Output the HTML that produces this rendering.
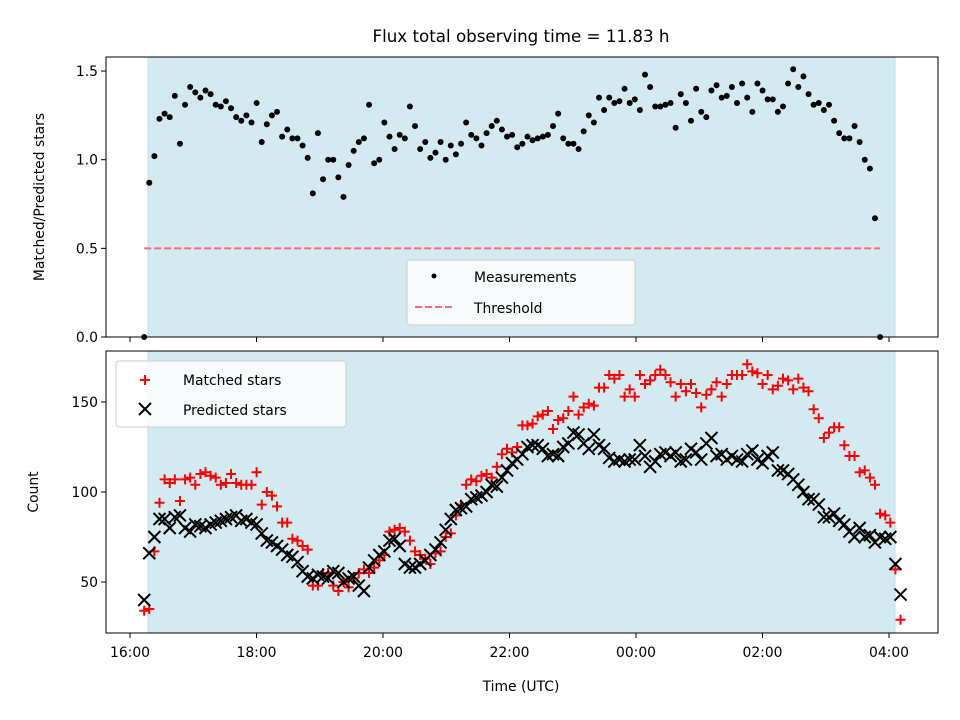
<!DOCTYPE html>
<html><head><meta charset="utf-8">
<style>
html,body{margin:0;padding:0;background:#fff;}
svg{display:block;font-family:"DejaVu Sans","Liberation Sans",sans-serif;}
</style></head>
<body>
<svg id="chart" width="960" height="720" viewBox="0 0 960 720" xmlns="http://www.w3.org/2000/svg">
<rect width="960" height="720" fill="#fff"/>
<text x="521" y="42" font-size="16.7" text-anchor="middle">Flux total observing time = 11.83 h</text>
<g id="topPanel"></g>
<g id="botPanel"></g>
<text x="521" y="691" font-size="13.9" text-anchor="middle">Time (UTC)</text>
<text transform="translate(44,197) rotate(-90)" font-size="13.9" text-anchor="middle">Matched/Predicted stars</text>
<text transform="translate(38,492) rotate(-90)" font-size="13.9" text-anchor="middle">Count</text>
</svg>
<script>
const startHour = 16.224;
const stepHour = 0.0808;
const shadeStart = 16.285;
const shadeEnd = 28.095;
const threshold = 0.5;
const ratioValues = [0,0.87,1.02,1.23,1.26,1.24,1.36,1.09,1.31,1.41,1.38,1.35,1.39,1.37,1.31,1.30,1.33,1.29,1.24,1.22,1.25,1.21,1.32,1.10,1.20,1.25,1.27,1.13,1.17,1.12,1.12,1.08,1.01,0.81,1.15,0.89,1.00,1.00,0.90,0.79,0.97,1.05,1.10,1.12,1.31,0.98,1.00,1.21,1.13,1.06,1.14,1.12,1.30,1.19,1.06,1.10,1.01,1.04,1.10,1.00,1.08,1.03,1.09,1.21,1.14,1.12,1.08,1.15,1.19,1.22,1.17,1.13,1.14,
1.07,1.09,1.13,1.11,1.12,1.13,1.14,1.19,1.26,1.12,1.09,1.09,1.06,1.16,1.25,1.21,1.35,1.28,1.35,1.32,1.33,1.40,1.32,1.34,1.28,1.48,1.41,1.30,1.30,1.31,1.32,1.18,1.37,1.32,1.22,1.40,1.27,1.24,1.39,1.42,1.35,1.36,1.41,1.32,1.43,1.35,1.27,1.43,1.39,1.34,1.34,1.27,1.30,1.43,1.51,1.41,1.47,1.37,1.31,1.32,1.28,1.31,1.22,1.15,1.12,1.12,1.19,1.10,1.00,0.95,0.67,0];
const matchedValues = [34,35,67,94,107,105,107,95,107,108,104,110,111,109,108,104,105,110,105,104,104,104,111,93,100,98,92,83,83,74,73,70,68,48,48,55,55,48,45,50,47,52,55,57,55,58,62,65,78,79,80,78,73,67,65,63,60,66,67,75,77,87,93,104,107,106,109,110,108,114,121,124,122,125,137,137,138,142,143,145,135,140,141,145,153,143,147,149,148,158,158,165,163,165,153,157,153,165,160,162,165,168,165,161,153,160,156,160,155,147,154,157,161,153,160,165,165,165,171,167,166,160,165,157,159,163,162,157,163,158,156,146,141,130,133,136,136,126,120,120,111,112,108,104,88,87,83,57,29];
const predictedValues = [40,66,75,85,85,80,86,87,80,78,82,81,80,82,83,84,85,86,87,84,85,83,82,77,73,72,70,68,65,64,61,56,53,52,54,53,52,56,55,50,52,53,48,45,58,62,65,67,73,74,70,60,58,58,60,62,65,68,72,79,85,90,91,92,96,97,98,100,104,103,108,112,116,118,121,125,126,126,124,120,121,120,125,127,133,132,127,124,132,126,124,119,117,118,117,118,118,126,120,114,117,121,122,120,122,117,118,124,122,118,127,130,120,121,118,120,118,117,121,123,118,116,120,122,112,112,110,107,104,100,96,96,93,86,86,88,84,82,78,75,80,75,76,72,75,74,75,60,43];
const xTickHours = [16,18,20,22,24,26,28];
const xTickLabels = ["16:00","18:00","20:00","22:00","00:00","02:00","04:00"];
const topYTicks = [0,0.5,1.0,1.5];
const topYLabels = ["0.0","0.5","1.0","1.5"];
const botYTicks = [50,100,150];
const botYLabels = ["50","100","150"];

const NS = "http://www.w3.org/2000/svg";
const L = 106, R = 938;
const T1 = 57, B1 = 337, T2 = 351, B2 = 633;
function xs(h){ return 130 + (h - 16) * 63.25; }
function yTop(v){ return 337 - v * 177.3; }
function yBot(v){ return 582 - (v - 50) * 1.8; }
function hourAt(i){ return startHour + i * stepHour; }
function mk(parent, tag, attrs){
  const e = document.createElementNS(NS, tag);
  for (const k in attrs) e.setAttribute(k, attrs[k]);
  parent.appendChild(e);
  return e;
}
const topG = document.getElementById('topPanel');
const botG = document.getElementById('botPanel');

function panel(g, T, B, name){
  const bg = mk(g, 'rect', {x:L, y:T, width:R-L, height:B-T, fill:'#fff'});
  
  
  const sh = mk(g, 'rect', {x:xs(shadeStart), y:T, width:xs(shadeEnd)-xs(shadeStart), height:B-T, fill:'#d4eaf1', stroke:'#bcdde9', 'stroke-width':1});
  
  
}
function frame(g, T, B, name){
  const f = mk(g, 'rect', {x:L, y:T, width:R-L, height:B-T, fill:'none', stroke:'#000', 'stroke-width':1});
  
  
  xTickHours.forEach((h) => {
    const t = mk(g, 'line', {x1:xs(h), x2:xs(h), y1:B, y2:B+5, stroke:'#000', 'stroke-width':1});
    
    
  });
}
panel(topG, T1, B1, 'top');
const th = mk(topG, 'line', {x1:xs(hourAt(0)), x2:xs(hourAt(ratioValues.length-1)), y1:yTop(threshold), y2:yTop(threshold), stroke:'#ff6b6b', 'stroke-width':2, 'stroke-dasharray':'7,3'});


ratioValues.forEach((v, i) => {
  const c = mk(topG, 'circle', {cx:xs(hourAt(i)), cy:yTop(v), r:3, fill:'#000'});
  
  
});
frame(topG, T1, B1, 'top');
topYTicks.forEach((v, i) => {
  const t = mk(topG, 'line', {x1:L-5, x2:L, y1:yTop(v), y2:yTop(v), stroke:'#000'});
  
  
  const tx = mk(topG, 'text', {x:L-8, y:yTop(v)+5, 'font-size':13.9, 'text-anchor':'end'});
  tx.textContent = topYLabels[i];
  
  
});
const lg1 = mk(topG, 'g', {});


mk(lg1, 'rect', {x:407, y:260, width:228, height:65, rx:3, fill:'#fff', 'fill-opacity':0.8, stroke:'#ccc'});
mk(lg1, 'circle', {cx:434, cy:276, r:2.5, fill:'#000'});
const lt1 = mk(lg1, 'text', {x:474, y:282, 'font-size':13.9});
lt1.textContent = 'Measurements';


mk(lg1, 'line', {x1:415, x2:455, y1:307, y2:307, stroke:'#ff6b6b', 'stroke-width':2, 'stroke-dasharray':'7,3'});
const lt2 = mk(lg1, 'text', {x:474, y:313, 'font-size':13.9});
lt2.textContent = 'Threshold';



panel(botG, T2, B2, 'bottom');
function plus(g, x, y){
  return mk(g, 'path', {d:`M${x-5},${y}H${x+5}M${x},${y-5}V${y+5}`, stroke:'#ff0000', 'stroke-width':2, fill:'none'});
}
function cross(g, x, y){
  return mk(g, 'path', {d:`M${x-6},${y-6}L${x+6},${y+6}M${x-6},${y+6}L${x+6},${y-6}`, stroke:'#000', 'stroke-width':2, fill:'none'});
}
matchedValues.forEach((v, i) => {
  const p = plus(botG, xs(hourAt(i)), yBot(v));
  
  
});
predictedValues.forEach((v, i) => {
  const p = cross(botG, xs(hourAt(i)), yBot(v));
  
  
});
frame(botG, T2, B2, 'bottom');
botYTicks.forEach((v, i) => {
  const t = mk(botG, 'line', {x1:L-5, x2:L, y1:yBot(v), y2:yBot(v), stroke:'#000'});
  
  
  const tx = mk(botG, 'text', {x:L-8, y:yBot(v)+5, 'font-size':13.9, 'text-anchor':'end'});
  tx.textContent = botYLabels[i];
  
  
});
xTickHours.forEach((h, i) => {
  const tx = mk(botG, 'text', {x:xs(h), y:B2+24, 'font-size':13.9, 'text-anchor':'middle'});
  tx.textContent = xTickLabels[i];
  
  
});
const lg2 = mk(botG, 'g', {});


mk(lg2, 'rect', {x:116, y:361, width:230, height:66, rx:3, fill:'#fff', 'fill-opacity':0.8, stroke:'#ccc'});
plus(lg2, 145, 380);
const lt3 = mk(lg2, 'text', {x:183, y:385, 'font-size':13.9});
lt3.textContent = 'Matched stars';


cross(lg2, 145, 409);
const lt4 = mk(lg2, 'text', {x:183, y:415, 'font-size':13.9});
lt4.textContent = 'Predicted stars';


</script>
</body></html>
